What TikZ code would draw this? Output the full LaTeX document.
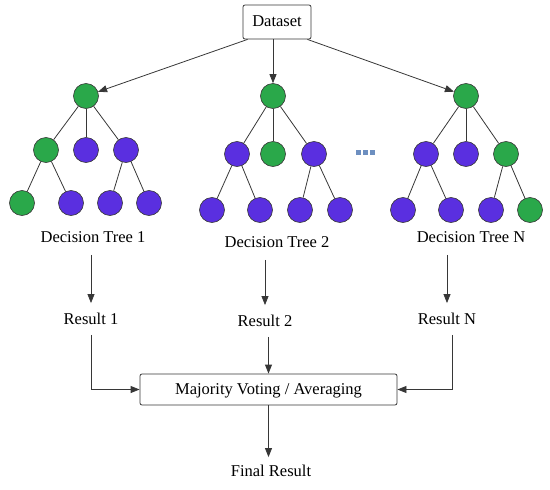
\documentclass[tikz,border=0pt]{standalone}
\usepackage{fontspec}
\setmainfont{Liberation Serif}
\usetikzlibrary{arrows.meta}
\definecolor{leafgreen}{RGB}{42,168,74}
\definecolor{leafpurple}{RGB}{90,47,224}
\definecolor{dotblue}{RGB}{109,143,192}
\definecolor{linegray}{RGB}{55,55,55}

\begin{document}
\begin{tikzpicture}[x=1pt,y=-1pt,>={Triangle[length=9pt,width=7pt]},thick,
    every node/.style={font=\fontsize{16.5}{18}\selectfont},
    tree node/.style={circle,draw=linegray,line width=0.6pt,minimum size=25pt,inner sep=0pt},
    gnode/.style={tree node,fill=leafgreen},
    pnode/.style={tree node,fill=leafpurple},
    txt/.style={text height=12pt,text depth=3pt,inner sep=3pt},
    box/.style={txt,draw=linegray,line width=0.8pt,rounded corners=2pt},
    link/.style={draw=linegray,line width=0.8pt},
    arr/.style={link,->}]
    \useasboundingbox (0,0) rectangle (550,490);

    \node[box,minimum width=68pt,minimum height=34pt] (ds) at (277,22) {Dataset};

    % tree 1
    \node[gnode] (t1) at (86,96) {};
    \node[gnode] (t1a) at (46,150) {};
    \node[pnode] (t1b) at (86,150) {};
    \node[pnode] (t1c) at (126,150) {};
    \node[gnode] (t1aa) at (22,203) {};
    \node[pnode] (t1ab) at (71,203) {};
    \node[pnode] (t1ca) at (110,203) {};
    \node[pnode] (t1cb) at (149,203) {};
    % tree 2
    \node[gnode] (t2) at (273,96) {};
    \node[pnode] (t2a) at (237,154) {};
    \node[gnode] (t2b) at (273,154) {};
    \node[pnode] (t2c) at (314,154) {};
    \node[pnode] (t2aa) at (212,210) {};
    \node[pnode] (t2ab) at (260,210) {};
    \node[pnode] (t2ca) at (300,210) {};
    \node[pnode] (t2cb) at (340,210) {};
    % tree N
    \node[gnode] (tn) at (466,96) {};
    \node[pnode] (tna) at (426,154) {};
    \node[pnode] (tnb) at (466,154) {};
    \node[gnode] (tnc) at (506,154) {};
    \node[pnode] (tnaa) at (403,210) {};
    \node[pnode] (tnab) at (451,210) {};
    \node[pnode] (tnca) at (491,210) {};
    \node[gnode] (tncb) at (530,210) {};

    \foreach \x in {358,365,372}
        \fill[dotblue] (\x-2.5,149.5) rectangle (\x+2.5,154.5);

    \node[txt] (l1) at (93,238) {Decision Tree 1};
    \node[txt] (l2) at (277,243) {Decision Tree 2};
    \node[txt] (ln) at (471,238) {Decision Tree N};

    \node[txt] (r1) at (91,320) {Result 1};
    \node[txt] (r2) at (265,322) {Result 2};
    \node[txt] (rn) at (447,320) {Result N};

    \node[box,minimum width=257pt,minimum height=31pt] (mv) at (268.5,389.5) {Majority Voting / Averaging};
    \node[txt] (fr) at (271,472) {Final Result};

    \coordinate (dsl) at ([xshift=5pt]ds.south west);
    \coordinate (dsr) at ([xshift=-4pt]ds.south east);

    \path[link]
    (t1) edge (t1a) edge (t1b) edge (t1c)
    (t1a) edge (t1aa) edge (t1ab)
    (t1c) edge (t1ca) edge (t1cb)
    (t2) edge (t2a) edge (t2b) edge (t2c)
    (t2a) edge (t2aa) edge (t2ab)
    (t2c) edge (t2ca) edge (t2cb)
    (tn) edge (tna) edge (tnb) edge (tnc)
    (tna) edge (tnaa) edge (tnab)
    (tnc) edge (tnca) edge (tncb);

    \draw[arr] (dsl) -- (t1);
    \draw[arr] (ds.south -| t2) -- (t2);
    \draw[arr] (dsr) -- (tn);

    \draw[arr,shorten <=6pt,shorten >=6pt] (l1.south -| r1) -- (r1);
    \draw[arr,shorten <=6pt,shorten >=6pt] (l2.south -| r2) -- (r2);
    \draw[arr,shorten <=6pt,shorten >=6pt] (ln.south -| rn) -- (rn);

    \draw[arr,shorten <=4pt] (r1.south) |- (mv.west);
    \draw[arr,shorten <=4pt] (r2.south -| mv.north) -- (mv.north);
    \draw[arr,shorten <=4pt] ([xshift=5pt]rn.south) |- (mv.east);
    \draw[arr,shorten >=4pt] (mv.south) -- (fr.north -| mv.south);
\end{tikzpicture}
\end{document}
